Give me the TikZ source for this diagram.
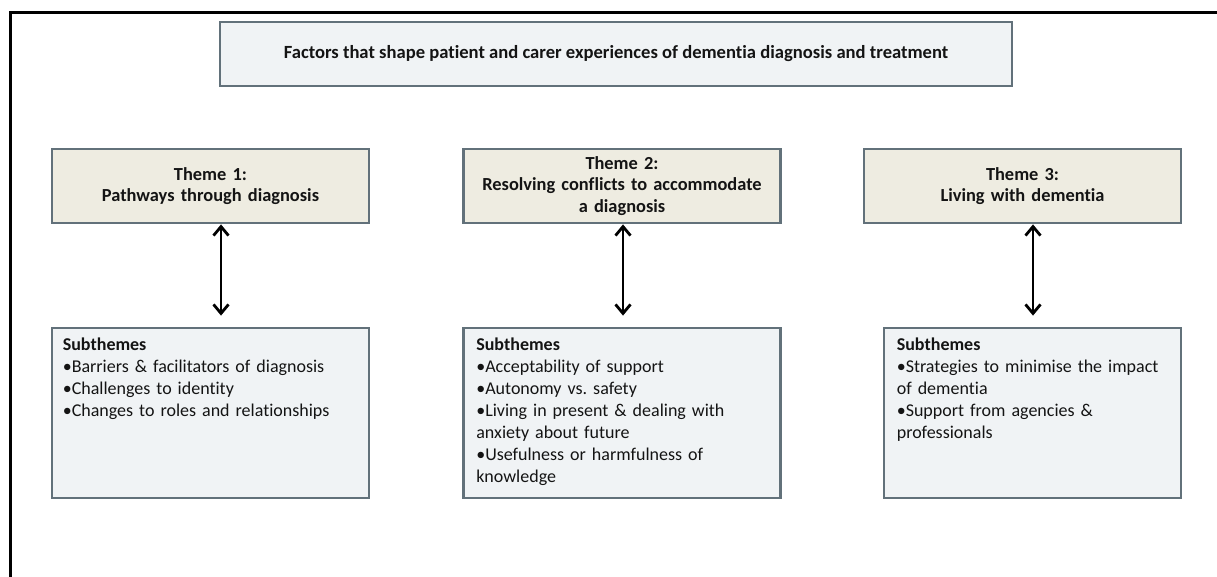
\documentclass[tikz,border=0pt]{standalone}
\usepackage{fontspec}
\setmainfont{Carlito}[Ligatures=NoCommon]
\usetikzlibrary{arrows.meta}
\definecolor{boxline}{RGB}{98,113,122}
\definecolor{themefill}{RGB}{238,236,225}
\definecolor{subfill}{RGB}{240,243,245}
\definecolor{ink}{RGB}{20,20,20}
\frenchspacing

\begin{document}
\begin{tikzpicture}[x=1pt, y=-1pt,
  box/.style={draw=boxline, line width=2.8pt, inner sep=0pt, text=ink},
  titlebox/.style={box, fill=subfill, minimum width=792pt, minimum height=64pt,
    font=\bfseries\fontsize{18.6}{22}\selectfont},
  themebox/.style={box, fill=themefill, minimum width=317pt, minimum height=74pt,
    text width=305pt, align=center, font=\bfseries\fontsize{18.4}{21.5}\selectfont},
  subbox/.style={box, fill=subfill, minimum width=317pt, minimum height=170pt},
  subtext/.style={anchor=north west, inner sep=0pt, text width=295pt, align=left,
    text=ink, font=\fontsize{18}{22}\selectfont},
  link/.style={{Straight Barb[length=9pt,width=15pt]}-{Straight Barb[length=9pt,width=15pt]},
    line width=2.8pt, black}]
\clip (0,0) rectangle (1217,577);

% outer frame
\draw[line width=3pt] (10.5,600) -- (10.5,12.5) -- (1230,12.5);

% title
\node[titlebox] (title) at (616,54) {Factors that shape patient and carer experiences of dementia diagnosis and treatment};

% theme nodes
\node[themebox] (t1) at (210.5,186) {Theme 1:\\Pathways through diagnosis};
\node[themebox] (t2) at (622,186) {Theme 2:\\Resolving conflicts to accommodate\\a diagnosis};
\node[themebox] (t3) at (1022.5,186) {Theme 3:\\Living with dementia};

% subtheme nodes
\node[subbox] (s1) at (210.5,413) {};
\node[subbox] (s2) at (622,413) {};
\node[subbox, minimum width=297pt] (s3) at (1032.5,413) {};

\node[subtext] (s1txt) at ([xshift=12pt,yshift=-11pt]s1.north west)
  {\textbf{Subthemes}\\•Barriers \& facilitators of diagnosis\\•Challenges to identity\\•Changes to roles and relationships};
\node[subtext] (s2txt) at ([xshift=14pt,yshift=-11pt]s2.north west)
  {\textbf{Subthemes}\\•Acceptability of support\\•Autonomy vs. safety\\•Living in present \& dealing with\\anxiety about future\\•Usefulness or harmfulness of\\knowledge};
\node[subtext] (s3txt) at ([xshift=14pt,yshift=-11pt]s3.north west)
  {\textbf{Subthemes}\\•Strategies to minimise the impact\\of dementia\\•Support from agencies \&\\professionals};

% arrows between themes and subthemes
\draw[link] ([xshift=10.5pt]t1.south) -- ([xshift=10.5pt,yshift=11pt]s1.north);
\draw[link] ([xshift=1pt]t2.south) -- ([xshift=1pt,yshift=11pt]s2.north);
\draw[link] ([xshift=10.5pt]t3.south) -- ([xshift=0.5pt,yshift=11pt]s3.north);
\end{tikzpicture}
\end{document}
